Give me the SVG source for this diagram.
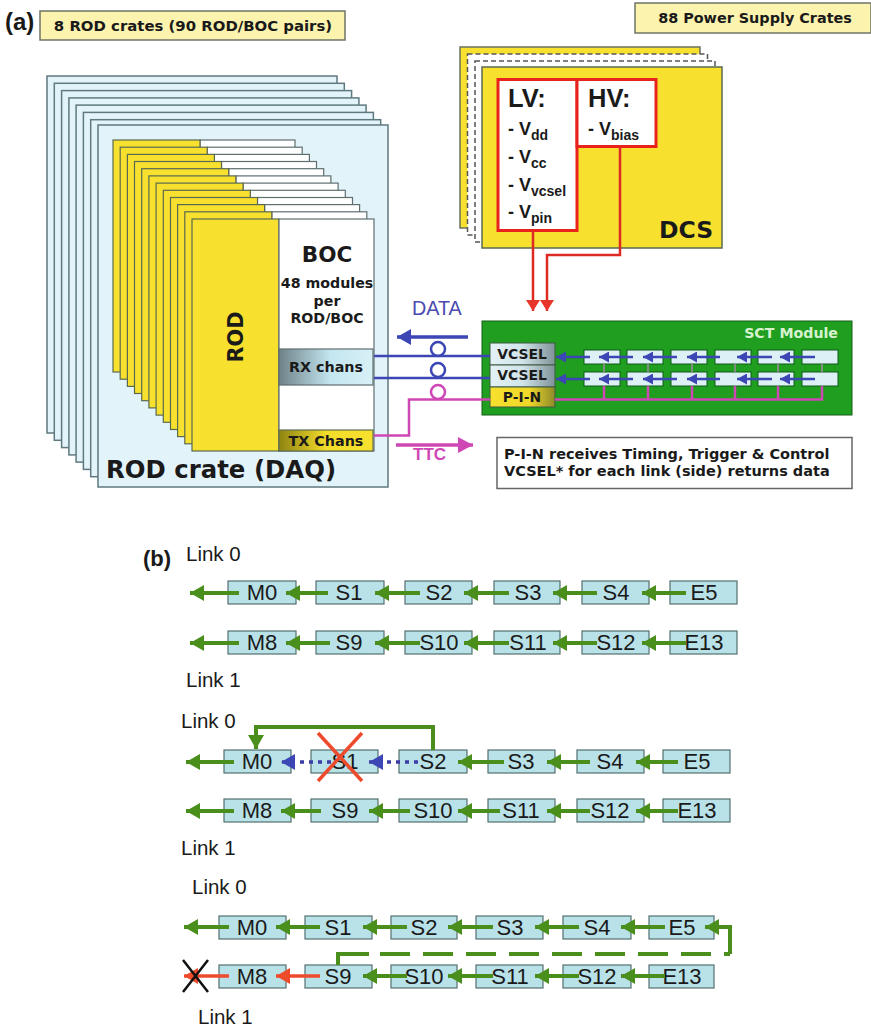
<svg xmlns="http://www.w3.org/2000/svg" width="871" height="1030" viewBox="0 0 871 1030">
<style>
text{font-family:"Liberation Sans",Arial,sans-serif;fill:#1a1a1a}
.v{font-family:"DejaVu Sans",Verdana,sans-serif;font-weight:700}
.m{text-anchor:middle}
.note{fill:#fbf3ae;stroke:#6f7468;stroke-width:1.5}
.crate{fill:#e3f3fa;stroke:#5f7a7e;stroke-width:1.5}
.rod{fill:#f8e02f;stroke:#5a6a50;stroke-width:1.2}
.boc{fill:#fff;stroke:#5f6f70;stroke-width:1.2}
.red{fill:#fff;stroke:#e8231c;stroke-width:3}
.cell{fill:#b9e1e8;stroke:#54706f;stroke-width:1.2}
.mini{fill:#dcf0f5;stroke:#0f5a18;stroke-width:1}
.lbl{font-size:22px}
.sub{font-size:14px}
.lk{font-size:20.5px}
.g{fill:none;stroke:#4a8f1c;stroke-width:4}
.b{fill:none;stroke:#3c46b4;stroke-width:2.5}
.p{fill:none;stroke:#cf47b5;stroke-width:2.5}
.r{fill:none;stroke:#ee4a2c;stroke-width:3.5}
</style>
<defs>
<marker id="ag" markerUnits="userSpaceOnUse" markerWidth="15" markerHeight="16" refX="14" refY="8" orient="auto"><path d="M0 0L14 8L0 16Z" fill="#4a8f1c"/></marker>
<marker id="ab" markerUnits="userSpaceOnUse" markerWidth="15" markerHeight="16" refX="14" refY="8" orient="auto"><path d="M0 0L14 8L0 16Z" fill="#3c46b4"/></marker>
<marker id="am" markerUnits="userSpaceOnUse" markerWidth="11" markerHeight="11" refX="10" refY="5.500" orient="auto"><path d="M0 0L10 5.500L0 11Z" fill="#3c46b4"/></marker>
<marker id="ao" markerUnits="userSpaceOnUse" markerWidth="15" markerHeight="16" refX="14" refY="8" orient="auto"><path d="M0 0L14 8L0 16Z" fill="#ee4a2c"/></marker>
<marker id="ap" markerUnits="userSpaceOnUse" markerWidth="16" markerHeight="16" refX="15" refY="8" orient="auto"><path d="M0 0L15 8L0 16Z" fill="#cf47b5"/></marker>
<marker id="ar" markerUnits="userSpaceOnUse" markerWidth="12" markerHeight="14" refX="11" refY="7" orient="auto"><path d="M0 0L11 7L0 14Z" fill="#e8352a"/></marker>
<linearGradient id="rx"><stop offset="0" stop-color="#6d8288"/><stop offset=".55" stop-color="#c4e6f0"/><stop offset="1" stop-color="#d8f0f6"/></linearGradient>
<linearGradient id="tx"><stop offset="0" stop-color="#8f8412"/><stop offset=".5" stop-color="#f3dc2a"/><stop offset="1" stop-color="#f8e02f"/></linearGradient>
<linearGradient id="vc"><stop offset="0" stop-color="#e4f2f6"/><stop offset=".5" stop-color="#d0e4ea"/><stop offset="1" stop-color="#7f9298"/></linearGradient>
<linearGradient id="pn"><stop offset="0" stop-color="#f8e02f"/><stop offset=".6" stop-color="#f0d82a"/><stop offset="1" stop-color="#8f8a2a"/></linearGradient>
</defs>

<text x="5" y="30" font-size="24" font-weight="700">(a)</text>
<g id="note-rod"><rect class="note" x="40" y="11" width="305" height="29"/><text class="v m" x="193" y="31" font-size="14.900">8 ROD crates (90 ROD/BOC pairs)</text></g>
<g id="note-ps"><rect class="note" x="635" y="3" width="236" height="30"/><text class="v m" x="755" y="23" font-size="14.400">88 Power Supply Crates</text></g>

<g id="rod-crates">
<rect class="crate" x="47" y="76" width="290" height="357"/>
<rect class="crate" x="54.3" y="83.3" width="290" height="357"/>
<rect class="crate" x="61.6" y="90.6" width="290" height="357"/>
<rect class="crate" x="68.9" y="97.9" width="290" height="357"/>
<rect class="crate" x="76.1" y="105.1" width="290" height="357"/>
<rect class="crate" x="83.4" y="112.4" width="290" height="357"/>
<rect class="crate" x="90.7" y="119.7" width="290" height="357"/>
<rect class="crate" x="98" y="125" width="290" height="362"/>
<text class="v" x="106" y="478" font-size="24.400">ROD crate (DAQ)</text>
</g>
<g id="rod-boc-stack">
<rect class="boc" x="200" y="140" width="95" height="232"/><rect class="rod" x="113" y="140" width="87" height="232"/>
<rect class="boc" x="207.2" y="147.2" width="95" height="232"/><rect class="rod" x="120.2" y="147.2" width="87" height="232"/>
<rect class="boc" x="214.4" y="154.4" width="95" height="232"/><rect class="rod" x="127.4" y="154.4" width="87" height="232"/>
<rect class="boc" x="221.5" y="161.5" width="95" height="232"/><rect class="rod" x="134.5" y="161.5" width="87" height="232"/>
<rect class="boc" x="228.7" y="168.7" width="95" height="232"/><rect class="rod" x="141.7" y="168.7" width="87" height="232"/>
<rect class="boc" x="235.9" y="175.9" width="95" height="232"/><rect class="rod" x="148.9" y="175.9" width="87" height="232"/>
<rect class="boc" x="243.1" y="183.1" width="95" height="232"/><rect class="rod" x="156.1" y="183.1" width="87" height="232"/>
<rect class="boc" x="250.3" y="190.3" width="95" height="232"/><rect class="rod" x="163.3" y="190.3" width="87" height="232"/>
<rect class="boc" x="257.5" y="197.5" width="95" height="232"/><rect class="rod" x="170.5" y="197.5" width="87" height="232"/>
<rect class="boc" x="264.6" y="204.6" width="95" height="232"/><rect class="rod" x="177.6" y="204.6" width="87" height="232"/>
<rect class="boc" x="271.8" y="211.8" width="95" height="232"/><rect class="rod" x="184.8" y="211.8" width="87" height="232"/>
</g>
<g id="rod"><rect class="rod" x="192" y="219" width="87" height="232"/><text class="v m" transform="translate(243 337) rotate(-90)" font-size="20.800">ROD</text></g>
<g id="boc"><rect class="boc" x="279" y="219" width="95" height="232"/>
<text class="v m" x="327" y="262" font-size="21.500">BOC</text>
<text class="v m" x="327" y="288" font-size="14.200">48 modules</text>
<text class="v m" x="327" y="306" font-size="14.200">per</text>
<text class="v m" x="327" y="323" font-size="14.200">ROD/BOC</text></g>
<g id="rx"><rect x="279" y="349" width="94" height="36" fill="url(#rx)" stroke="#5f6f70" stroke-width="1.2"/><text class="v m" x="326" y="372" font-size="14.300">RX chans</text></g>
<g id="tx"><rect x="279" y="430" width="94" height="21" fill="url(#tx)" stroke="#5f6f50" stroke-width="1.2"/><text class="v m" x="326" y="446" font-size="14.300">TX Chans</text></g>

<g id="dcs">
<rect x="460" y="47" width="240" height="181" fill="#f8e02f" stroke="#6a7060" stroke-width="1.5"/>
<rect x="467.500" y="54" width="240" height="181" fill="#fff" stroke="#555" stroke-width="1.5" stroke-dasharray="5 3"/>
<rect x="475" y="61" width="240" height="181" fill="#fff" stroke="#555" stroke-width="1.5" stroke-dasharray="5 3"/>
<rect x="482" y="67" width="240" height="181" fill="#f8e02f" stroke="#5a6a50" stroke-width="1.5"/>
<text class="v" x="659" y="238" font-size="23.500">DCS</text>
</g>
<g id="lv"><rect class="red" x="498" y="79.500" width="79" height="151"/>
<text x="508" y="107" font-size="25.500" font-weight="700">LV:</text>
<text x="508" y="135" font-size="18" font-weight="700">- V<tspan class="sub" dy="5">dd</tspan></text>
<text x="508" y="163" font-size="18" font-weight="700">- V<tspan class="sub" dy="5">cc</tspan></text>
<text x="508" y="191" font-size="18" font-weight="700">- V<tspan class="sub" dy="5">vcsel</tspan></text>
<text x="508" y="218" font-size="18" font-weight="700">- V<tspan class="sub" dy="5">pin</tspan></text></g>
<g id="hv"><rect class="red" x="577" y="79.500" width="79" height="67"/>
<text x="588" y="107" font-size="25.500" font-weight="700">HV:</text>
<text x="588" y="135" font-size="18" font-weight="700">- V<tspan class="sub" dy="5">bias</tspan></text></g>

<g id="sct"><rect x="482" y="321" width="370" height="94" fill="#1f9e1f" stroke="#175f1a" stroke-width="1"/>
<text class="v" x="838" y="338" font-size="14.200" text-anchor="end" style="fill:#d8f2cf">SCT Module</text></g>
<g id="vcsel0"><rect x="490" y="343" width="65" height="22" fill="url(#vc)" stroke="#3c5a40"/><text class="v m" x="522" y="359" font-size="13.900">VCSEL</text></g>
<g id="vcsel1"><rect x="490" y="365" width="65" height="22" fill="url(#vc)" stroke="#3c5a40"/><text class="v m" x="522" y="380" font-size="13.900">VCSEL</text></g>
<g id="pin"><rect x="490" y="387" width="65" height="20" fill="url(#pn)" stroke="#3c5a40"/><text class="v m" x="522" y="402" font-size="13.900">P-I-N</text></g>
<g id="mini-modules">
<rect class="mini" x="584" y="350" width="36" height="14"/><rect class="mini" x="627" y="350" width="36" height="14"/><rect class="mini" x="671" y="350" width="36" height="14"/><rect class="mini" x="715" y="350" width="36" height="14"/><rect class="mini" x="758" y="350" width="36" height="14"/><rect class="mini" x="802" y="350" width="36" height="14"/>
<rect class="mini" x="584" y="372" width="36" height="14"/><rect class="mini" x="627" y="372" width="36" height="14"/><rect class="mini" x="671" y="372" width="36" height="14"/><rect class="mini" x="715" y="372" width="36" height="14"/><rect class="mini" x="758" y="372" width="36" height="14"/><rect class="mini" x="802" y="372" width="36" height="14"/>
</g>
<g id="note-pin"><rect x="497" y="437.500" width="355" height="51" fill="#fff" stroke="#666" stroke-width="1.5"/>
<text class="v" x="504" y="459" font-size="14.500">P-I-N receives Timing, Trigger &amp; Control</text>
<text class="v" x="504" y="476" font-size="14.500">VCSEL* for each link (side) returns data</text></g>

<g id="connectors-a">
<path d="M533 231V311" fill="none" stroke="#dd2a22" stroke-width="2.500" marker-end="url(#ar)"/>
<path d="M620 147V255H547V311" fill="none" stroke="#dd2a22" stroke-width="2.500" marker-end="url(#ar)"/>
<path class="b" d="M374 356H490M374 378H490"/>
<circle class="b" cx="438" cy="349" r="7"/><circle class="b" cx="438" cy="370" r="7"/>
<circle class="p" cx="438" cy="392" r="7"/>
<path class="p" d="M374 435.500H409V399.500H490"/>
<path class="p" d="M555 399.500H822V386M604 399.500V386M648 399.500V386M692 399.500V386M735 399.500V386M778 399.500V386"/>
<path fill="none" stroke="#a08a9a" stroke-width="1.500" d="M604 372V364M648 372V364M692 372V364M735 372V364M778 372V364M822 372V364"/>
<path fill="none" stroke="#3c46b4" stroke-width="3.500" marker-end="url(#ab)" d="M468 337H397"/>
<path fill="none" stroke="#cf47b5" stroke-width="3.500" marker-end="url(#ap)" d="M396 445H473"/>
<path class="b" marker-end="url(#am)" d="M590 357H556"/><path class="b" marker-end="url(#am)" d="M633 357H599"/><path class="b" marker-end="url(#am)" d="M677 357H643"/><path class="b" marker-end="url(#am)" d="M720 357H687"/><path class="b" marker-end="url(#am)" d="M772 357H737"/><path class="b" marker-end="url(#am)" d="M815 357H780"/>
<path class="b" marker-end="url(#am)" d="M590 379H556"/><path class="b" marker-end="url(#am)" d="M633 379H599"/><path class="b" marker-end="url(#am)" d="M677 379H643"/><path class="b" marker-end="url(#am)" d="M720 379H687"/><path class="b" marker-end="url(#am)" d="M772 379H737"/><path class="b" marker-end="url(#am)" d="M815 379H780"/>
</g>
<text x="412" y="315" font-size="19.800" style="fill:#4a4ab0">DATA</text>
<text x="413" y="460" font-size="17" style="fill:#cf47b5" font-weight="700">TTC</text>

<text x="143" y="566" font-size="22" font-weight="700">(b)</text>
<text class="lk" x="186" y="561">Link 0</text>
<text class="lk" x="186" y="687">Link 1</text>
<text class="lk" x="181" y="728">Link 0</text>
<text class="lk" x="181" y="855">Link 1</text>
<text class="lk" x="192" y="894">Link 0</text>
<text class="lk" x="198" y="1024">Link 1</text>

<g id="row1">
<g id="r1-m0"><rect class="cell" x="228" y="581" width="68" height="23"/><text class="lbl m" x="262" y="600">M0</text></g>
<g id="r1-s1"><rect class="cell" x="316" y="581" width="68" height="23"/><text class="lbl m" x="349" y="600">S1</text></g>
<g id="r1-s2"><rect class="cell" x="405" y="581" width="67" height="23"/><text class="lbl m" x="439" y="600">S2</text></g>
<g id="r1-s3"><rect class="cell" x="494" y="581" width="66" height="23"/><text class="lbl m" x="528" y="600">S3</text></g>
<g id="r1-s4"><rect class="cell" x="582" y="581" width="67" height="23"/><text class="lbl m" x="616" y="600">S4</text></g>
<g id="r1-e5"><rect class="cell" x="670" y="581" width="67" height="23"/><text class="lbl m" x="704" y="600">E5</text></g>
</g>
<g id="row2">
<g id="r2-m8"><rect class="cell" x="228" y="631" width="68" height="23"/><text class="lbl m" x="262" y="650">M8</text></g>
<g id="r2-s9"><rect class="cell" x="316" y="631" width="68" height="23"/><text class="lbl m" x="349" y="650">S9</text></g>
<g id="r2-s10"><rect class="cell" x="405" y="631" width="67" height="23"/><text class="lbl m" x="439" y="650">S10</text></g>
<g id="r2-s11"><rect class="cell" x="494" y="631" width="66" height="23"/><text class="lbl m" x="528" y="650">S11</text></g>
<g id="r2-s12"><rect class="cell" x="582" y="631" width="67" height="23"/><text class="lbl m" x="616" y="650">S12</text></g>
<g id="r2-e13"><rect class="cell" x="670" y="631" width="67" height="23"/><text class="lbl m" x="704" y="650">E13</text></g>
</g>
<g id="row3">
<g id="r3-m0"><rect class="cell" x="224" y="750" width="67" height="23"/><text class="lbl m" x="257" y="769">M0</text></g>
<g id="r3-s1"><rect class="cell" x="311" y="750" width="67" height="23"/><text class="lbl m" x="345" y="769">S1</text></g>
<g id="r3-s2"><rect class="cell" x="399" y="750" width="68" height="23"/><text class="lbl m" x="433" y="769">S2</text></g>
<g id="r3-s3"><rect class="cell" x="488" y="750" width="67" height="23"/><text class="lbl m" x="521" y="769">S3</text></g>
<g id="r3-s4"><rect class="cell" x="577" y="750" width="67" height="23"/><text class="lbl m" x="610" y="769">S4</text></g>
<g id="r3-e5"><rect class="cell" x="663" y="750" width="67" height="23"/><text class="lbl m" x="697" y="769">E5</text></g>
</g>
<g id="row4">
<g id="r4-m8"><rect class="cell" x="224" y="799" width="67" height="23"/><text class="lbl m" x="257" y="818">M8</text></g>
<g id="r4-s9"><rect class="cell" x="311" y="799" width="67" height="23"/><text class="lbl m" x="345" y="818">S9</text></g>
<g id="r4-s10"><rect class="cell" x="399" y="799" width="68" height="23"/><text class="lbl m" x="433" y="818">S10</text></g>
<g id="r4-s11"><rect class="cell" x="488" y="799" width="67" height="23"/><text class="lbl m" x="521" y="818">S11</text></g>
<g id="r4-s12"><rect class="cell" x="577" y="799" width="67" height="23"/><text class="lbl m" x="610" y="818">S12</text></g>
<g id="r4-e13"><rect class="cell" x="663" y="799" width="67" height="23"/><text class="lbl m" x="697" y="818">E13</text></g>
</g>
<g id="row5">
<g id="r5-m0"><rect class="cell" x="219" y="916" width="67" height="23"/><text class="lbl m" x="252" y="935">M0</text></g>
<g id="r5-s1"><rect class="cell" x="305" y="916" width="67" height="23"/><text class="lbl m" x="338" y="935">S1</text></g>
<g id="r5-s2"><rect class="cell" x="391" y="916" width="66" height="23"/><text class="lbl m" x="424" y="935">S2</text></g>
<g id="r5-s3"><rect class="cell" x="476" y="916" width="67" height="23"/><text class="lbl m" x="510" y="935">S3</text></g>
<g id="r5-s4"><rect class="cell" x="563" y="916" width="68" height="23"/><text class="lbl m" x="597" y="935">S4</text></g>
<g id="r5-e5"><rect class="cell" x="649" y="916" width="65" height="23"/><text class="lbl m" x="682" y="935">E5</text></g>
</g>
<g id="row6">
<g id="r6-m8"><rect class="cell" x="219" y="965" width="67" height="23"/><text class="lbl m" x="252" y="984">M8</text></g>
<g id="r6-s9"><rect class="cell" x="305" y="965" width="67" height="23"/><text class="lbl m" x="338" y="984">S9</text></g>
<g id="r6-s10"><rect class="cell" x="391" y="965" width="66" height="23"/><text class="lbl m" x="424" y="984">S10</text></g>
<g id="r6-s11"><rect class="cell" x="476" y="965" width="67" height="23"/><text class="lbl m" x="510" y="984">S11</text></g>
<g id="r6-s12"><rect class="cell" x="563" y="965" width="68" height="23"/><text class="lbl m" x="597" y="984">S12</text></g>
<g id="r6-e13"><rect class="cell" x="649" y="965" width="65" height="23"/><text class="lbl m" x="682" y="984">E13</text></g>
</g>

<g id="connectors-b">
<path class="g" marker-end="url(#ag)" d="M239 593H190"/><path class="g" marker-end="url(#ag)" d="M328 593H286"/><path class="g" marker-end="url(#ag)" d="M420 593H375"/><path class="g" marker-end="url(#ag)" d="M509 593H464"/><path class="g" marker-end="url(#ag)" d="M597 593H553"/><path class="g" marker-end="url(#ag)" d="M686 593H642"/>
<path class="g" marker-end="url(#ag)" d="M239 643H190"/><path class="g" marker-end="url(#ag)" d="M330 643H286"/><path class="g" marker-end="url(#ag)" d="M420 643H375"/><path class="g" marker-end="url(#ag)" d="M509 643H464"/><path class="g" marker-end="url(#ag)" d="M597 643H553"/><path class="g" marker-end="url(#ag)" d="M686 643H642"/>

<path class="g" marker-end="url(#ag)" d="M234 762H186"/>
<path fill="none" stroke="#3c3ca8" stroke-width="3.500" stroke-dasharray="4 5" marker-end="url(#ab)" d="M331 762H281"/>
<path fill="none" stroke="#3c3ca8" stroke-width="3.500" stroke-dasharray="4 5" marker-end="url(#ab)" d="M418 762H369"/>
<path class="g" marker-end="url(#ag)" d="M433 750V727H256V749"/>
<path class="g" marker-end="url(#ag)" d="M504 762H458"/><path class="g" marker-end="url(#ag)" d="M590 762H547"/><path class="g" marker-end="url(#ag)" d="M678 762H636"/>
<path class="g" marker-end="url(#ag)" d="M234 811H186"/><path class="g" marker-end="url(#ag)" d="M321 811H281"/><path class="g" marker-end="url(#ag)" d="M410 811H369"/><path class="g" marker-end="url(#ag)" d="M500 811H458"/><path class="g" marker-end="url(#ag)" d="M590 811H547"/><path class="g" marker-end="url(#ag)" d="M678 811H636"/>
<path d="M318 733L362 781M362 733L318 781" fill="none" stroke="#ee4a2c" stroke-width="3.500"/>

<path class="g" marker-end="url(#ag)" d="M229 927H184"/><path class="g" marker-end="url(#ag)" d="M320 927H276"/><path class="g" marker-end="url(#ag)" d="M407 927H363"/><path class="g" marker-end="url(#ag)" d="M493 927H448"/><path class="g" marker-end="url(#ag)" d="M579 927H535"/><path class="g" marker-end="url(#ag)" d="M665 927H621"/>
<path class="g" marker-end="url(#ag)" d="M730 954V927H705"/>
<path class="g" d="M338 965V954H369"/>
<path class="g" stroke-dasharray="30 13" d="M380 954H730"/>
<path class="r" marker-end="url(#ao)" d="M229 976H184"/><path class="r" marker-end="url(#ao)" d="M320 976H276"/>
<path class="g" marker-end="url(#ag)" d="M407 976H363"/><path class="g" marker-end="url(#ag)" d="M493 976H448"/><path class="g" marker-end="url(#ag)" d="M579 976H535"/><path class="g" marker-end="url(#ag)" d="M665 976H621"/>
<path d="M183 960L208 992M208 960L183 992" fill="none" stroke="#111" stroke-width="2.500"/>
</g>
</svg>
